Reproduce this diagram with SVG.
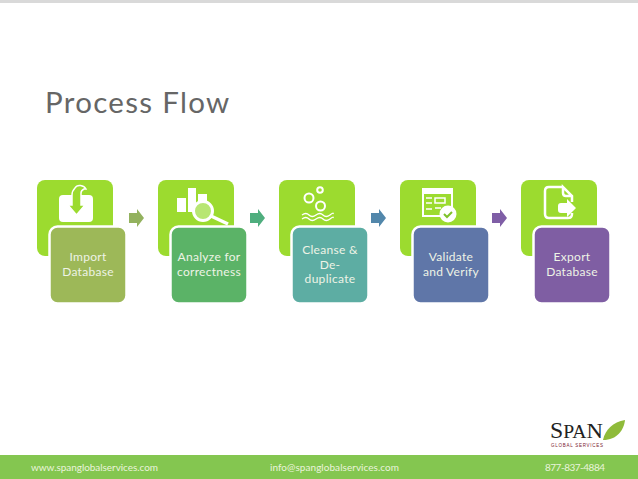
<svg xmlns="http://www.w3.org/2000/svg" width="638" height="479" viewBox="0 0 638 479">
<style>
text{font-family:Lato,"Open Sans","Liberation Sans",sans-serif}
.card{fill:#9cdb2f}
.box{stroke:#fff;stroke-width:2.5}
.lbl{fill:#eef3e6;font-size:12px;text-anchor:middle;letter-spacing:.3px}
.ic{fill:#fff}
.icl{fill:none;stroke:#fff;stroke-width:2}
.foot{fill:#eaf4dc;font-size:10px}
</style>
<rect width="638" height="479" fill="#fff"/>
<rect width="638" height="3" fill="#d9d9d9"/>
<text x="45" y="113" font-size="29.500" fill="#666" letter-spacing="1.300">Process Flow</text>
<g id="connectors">
<path d="M129 213h8v-4l7 9-7 9v-4h-8z" fill="#93b25e"/>
<path d="M250 213h8v-4l7 9-7 9v-4h-8z" fill="#4fae7e"/>
<path d="M371 213h8v-4l7 9-7 9v-4h-8z" fill="#5287ab"/>
<path d="M492 213h8v-4l7 9-7 9v-4h-8z" fill="#7f5ea6"/>
</g>
<g id="node-import">
<rect class="card" x="37" y="180" width="76" height="76" rx="8"/>
<rect class="ic" x="59" y="195" width="34" height="27" rx="4"/>
<path d="M72 205h-4l8.500 10 8.500-10h-4v-12c0-2 1-3 3-4l2 0c-2-4-9-5-11-1-2 2-3 4-3 7z" fill="#9cdb2f" stroke="#fff" stroke-width="1.500"/>
<rect class="box" x="49.500" y="226.500" width="77" height="77" rx="8" fill="#9db858"/>
<text class="lbl"><tspan x="88" y="261">Import</tspan><tspan x="88" y="276">Database</tspan></text>
</g>
<g id="node-analyze">
<rect class="card" x="158" y="180" width="76" height="76" rx="8"/>
<rect class="ic" x="177" y="198" width="9" height="14"/>
<rect class="ic" x="188" y="188" width="8" height="24"/>
<rect class="ic" x="198" y="194" width="9" height="14"/>
<circle cx="203" cy="211" r="9.500" fill="#b8e673" stroke="#fff" stroke-width="3"/>
<path d="M211 216l17 8" stroke="#fff" stroke-width="3.500" fill="none"/>
<rect class="box" x="170.500" y="226.500" width="77" height="77" rx="8" fill="#5bb367"/>
<text class="lbl"><tspan x="209" y="261">Analyze for</tspan><tspan x="209" y="276">correctness</tspan></text>
</g>
<g id="node-cleanse">
<rect class="card" x="279" y="180" width="76" height="76" rx="8"/>
<circle class="icl" cx="309" cy="198" r="4.500"/>
<circle class="icl" cx="320" cy="190" r="2.800"/>
<circle class="icl" cx="320.500" cy="206" r="4.500"/>
<path class="icl" style="stroke-width:1.300" d="M302 215q4-3 7 0t7 0 7 0 7 0 3-1M302 219q4-3 7 0t7 0 7 0 7 0 3-1"/>
<rect class="box" x="291.500" y="226.500" width="77" height="77" rx="8" fill="#5dada3"/>
<text class="lbl"><tspan x="330" y="254">Cleanse &amp;</tspan><tspan x="330" y="269">De-</tspan><tspan x="330" y="283">duplicate</tspan></text>
</g>
<g id="node-validate">
<rect class="card" x="400" y="180" width="76" height="76" rx="8"/>
<path class="ic" d="M422 188h31v29h-31z"/>
<path d="M424 194h27v21h-27z" fill="#9cdb2f"/>
<path d="M426 198h6M426 203h6M426 209h6M435 198h10v5h-10zM435 208h6" stroke="#fff" stroke-width="1.500" fill="none"/>
<circle cx="448" cy="214" r="8.500" fill="#fff"/>
<path d="M444 214l3 3 5-5" stroke="#7fc22a" stroke-width="2" fill="none"/>
<rect class="box" x="412.500" y="226.500" width="77" height="77" rx="8" fill="#5f76a8"/>
<text class="lbl"><tspan x="451" y="261">Validate</tspan><tspan x="451" y="276">and Verify</tspan></text>
</g>
<g id="node-export">
<rect class="card" x="521" y="180" width="76" height="76" rx="8"/>
<path class="icl" style="stroke-width:2.500" d="M563 187h-14c-3 0-4 2-4 4v23c0 3 2 4 4 4h19c3 0 4-2 4-4v-1M572 202v-6l-9-9v6c0 2 1 3 3 3h6"/>
<path class="ic" d="M561 203h6v-4l9 9-9 9v-4h-6c-2 0-3-1-3-3v-4c0-2 1-3 3-3z"/>
<rect class="box" x="533.500" y="226.500" width="77" height="77" rx="8" fill="#7f5ea3"/>
<text class="lbl"><tspan x="572" y="261">Export</tspan><tspan x="572" y="276">Database</tspan></text>
</g>
<g id="logo">
<text x="550" y="438" font-size="19" fill="#222" style="font-family:'Liberation Serif',serif" textLength="53" lengthAdjust="spacingAndGlyphs"><tspan font-size="23">S</tspan>PA<tspan font-size="22">N</tspan></text>
<text x="551" y="447" font-size="4.500" fill="#7a2030" style="font-family:'Liberation Sans',sans-serif" textLength="52">GLOBAL SERVICES</text>
<path d="M603 440c2-10 10-18 22-20-1 10-8 20-22 20z" fill="#8fbb3a"/>
</g>
<rect id="footer" y="455" width="638" height="24" fill="#84c650"/>
<text class="foot" x="31" y="470.500" textLength="127">www.spanglobalservices.com</text>
<text class="foot" x="270" y="470.500" textLength="129">info@spanglobalservices.com</text>
<text class="foot" x="545" y="470.500" textLength="60">877-837-4884</text>
</svg>
